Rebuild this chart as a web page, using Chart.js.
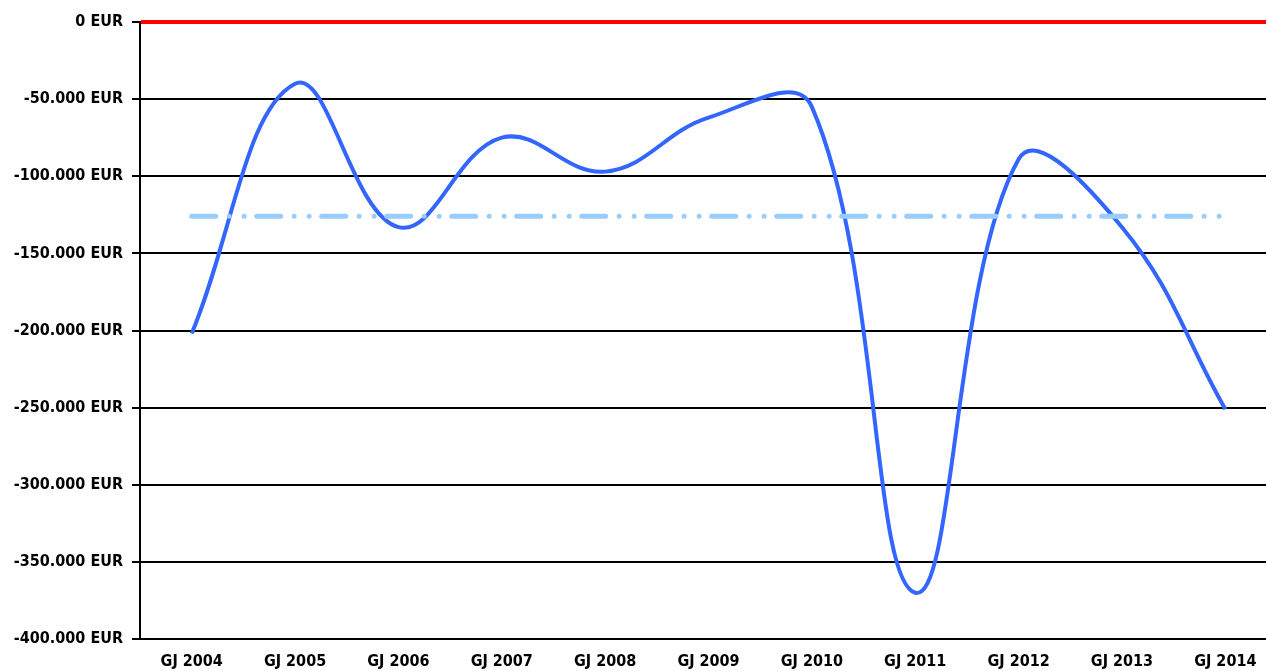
<!DOCTYPE html>
<html>
<head>
<meta charset="utf-8">
<script src="https://cdn.jsdelivr.net/npm/chart.js@4.4.0/dist/chart.umd.min.js"></script>
<style>
    html, body { margin: 0; padding: 0; background: #fff; overflow: hidden; }
    #wrap { width: 1277px; height: 671px; }
</style>
</head>
<body>
<div id="wrap"><canvas id="chart-area"></canvas></div>
<script>
const years = ['GJ 2004','GJ 2005','GJ 2006','GJ 2007','GJ 2008','GJ 2009','GJ 2010','GJ 2011','GJ 2012','GJ 2013','GJ 2014'];
const result = [-202000, -40000, -133000, -75000, -97000, -62000, -55000, -370000, -89000, -133000, -251000];
const average = [-126000, -126000, -126000, -126000, -126000, -126000, -126000, -126000, -126000, -126000, -126000];

const formatEur = (v) => {
    const s = Math.abs(v).toString().replace(/\B(?=(\d{3})+(?!\d))/g, '.');
    return (v < 0 ? '-' : '') + s + ' EUR';
};

const labelFont = { family: 'DejaVu Sans Condensed', size: 16, weight: 'bold' };

const config = {
    type: 'line',
    data: {
        labels: years,
        datasets: [{
            data: average,
            borderColor: '#99ccff',
            borderWidth: 5,
            borderCapStyle: 'round',
            borderDash: [24, 13.5, 0, 15, 0, 12.5],
            pointRadius: 0,
            tension: 0
        }, {
            data: result,
            borderColor: '#3366ff',
            borderWidth: 4,
            pointRadius: 0,
            tension: 0.4
        }]
    },
    options: {
        responsive: true,
        maintainAspectRatio: false,
        animation: false,
        layout: { padding: { top: 22, right: 0, bottom: 0, left: 0 } },
        plugins: {
            legend: { display: false },
            tooltip: { enabled: false }
        },
        scales: {
            x: {
                offset: true,
                grid: { display: false },
                border: { display: true, color: '#000', width: 2 },
                ticks: { color: '#000', font: labelFont, padding: 5, maxRotation: 0, autoSkip: false },
                afterFit: (scale) => { scale.height = 32; }
            },
            y: {
                min: -400000,
                max: 0,
                ticks: {
                    stepSize: 50000,
                    color: '#000',
                    font: labelFont,
                    padding: 9,
                    callback: (v) => formatEur(v)
                },
                grid: {
                    color: (ctx) => ctx.tick && ctx.tick.value === 0 ? '#ff0000' : '#000',
                    lineWidth: (ctx) => ctx.tick && ctx.tick.value === 0 ? 4 : 2,
                    tickColor: '#000',
                    tickWidth: 2,
                    tickLength: 8
                },
                border: { display: true, color: '#000', width: 2 },
                afterFit: (scale) => { scale.width = 140; }
            }
        }
    }
};

window.onload = function () {
    const ctx = document.querySelector('#chart-area').getContext('2d');
    const myChart = new Chart(ctx, config);
};
</script>
</body>
</html>
